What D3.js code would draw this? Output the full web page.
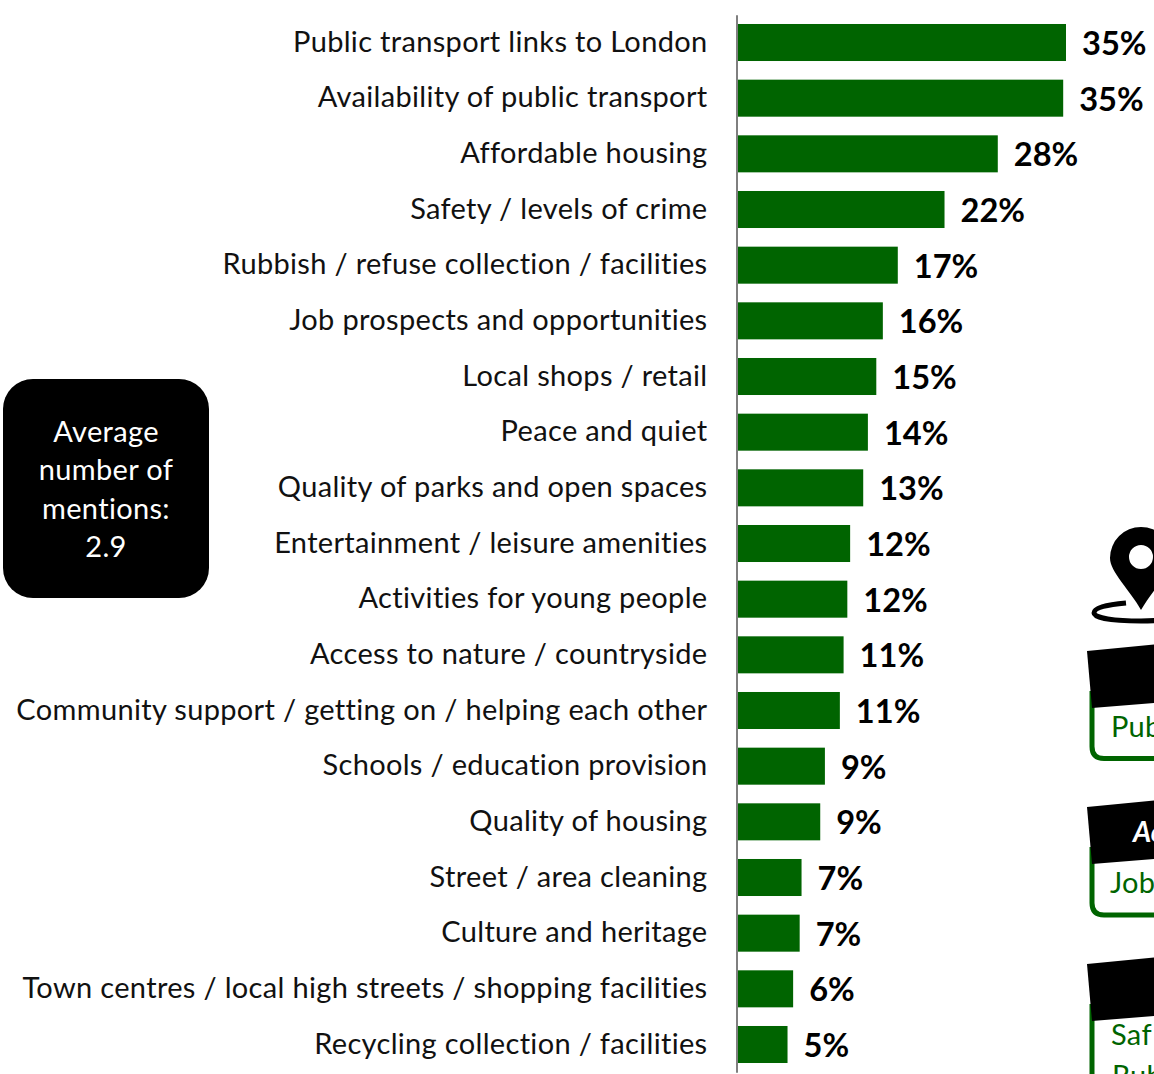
<!DOCTYPE html>
<html><head><meta charset="utf-8">
<script src="https://cdn.jsdelivr.net/npm/d3@7/dist/d3.min.js"></script>
<style>html,body{margin:0;padding:0;background:#fff;overflow:hidden}svg{display:block}text{font-family:Lato,"Open Sans",sans-serif}</style>
</head><body><script>
const categories=["Public transport links to London","Availability of public transport","Affordable housing","Safety / levels of crime","Rubbish / refuse collection / facilities","Job prospects and opportunities","Local shops / retail","Peace and quiet","Quality of parks and open spaces","Entertainment / leisure amenities","Activities for young people","Access to nature / countryside","Community support / getting on / helping each other","Schools / education provision","Quality of housing","Street / area cleaning","Culture and heritage","Town centres / local high streets / shopping facilities","Recycling collection / facilities"];
const values=[35.1,34.8,27.8,22.1,17.1,15.5,14.8,13.9,13.4,12.0,11.7,11.3,10.9,9.3,8.8,6.8,6.6,5.9,5.3];
const valueLabels=["35%","35%","28%","22%","17%","16%","15%","14%","13%","12%","12%","11%","11%","9%","9%","7%","7%","6%","5%"];
const averageLines=["Average","number of","mentions:","2.9"];

const W=1154,H=1074,GREEN="#006400",SPACING="0.33px";
const svg=d3.select("body").append("svg").attr("width",W).attr("height",H);
const x=d3.scaleLinear().domain([0,35.1]).range([738,1066]);
const y=d3.scaleBand().domain(categories).range([14.67,1072.33]).paddingInner(.335).paddingOuter(.1675);

svg.append("g").selectAll("rect").data(values).join("rect")
 .attr("x",x(0)).attr("y",(d,i)=>y(categories[i])).attr("width",d=>x(d)-x(0)).attr("height",y.bandwidth()).attr("fill",GREEN);

const ax=svg.append("g").attr("transform","translate(736.5,0)").call(d3.axisLeft(y).tickSize(0).tickPadding(29));
ax.select(".domain").attr("stroke","#7f7f7f").attr("stroke-width",2);
ax.selectAll("text").attr("font-size",29).attr("fill","#111").style("font-family","Lato").style("letter-spacing",SPACING);

svg.append("g").selectAll("text").data(values).join("text")
 .attr("x",d=>x(d)+16).attr("y",(d,i)=>y(categories[i])+y.bandwidth()/2+1).attr("dy",".35em")
 .attr("font-size",32.6).attr("font-weight",700).attr("fill","#000").text((d,i)=>valueLabels[i]);

// average box
svg.append("rect").attr("x",3).attr("y",379).attr("width",206).attr("height",219).attr("rx",30).attr("fill","#000");
svg.append("g").selectAll("text").data(averageLines).join("text")
 .attr("x",106).attr("y",(d,i)=>442+i*38.3).attr("text-anchor","middle").attr("font-size",29).style("letter-spacing",SPACING).attr("fill","#fff").text(d=>d);

// map pin
svg.append("path").attr("fill","#000").attr("fill-rule","evenodd")
 .attr("d","M1141 610 C1130 590 1110 572 1110 558 A31 31 0 0 1 1172 558 C1172 572 1152 590 1141 610Z M1153 557 A12 12 0 1 0 1129 557 A12 12 0 1 0 1153 557Z");
svg.append("path").attr("fill","none").attr("stroke","#000").attr("stroke-width",5)
 .attr("d","M1126 603 C1105 605 1094 608 1094 613 C1094 618 1115 621 1141 621 C1150 621 1165 620 1175 618");

// callouts
const callouts=[
 {top:651,txt:[["Pub",1111,737]],bottom:761},
 {top:807,txt:[["Job",1110,893]],bottom:917.5,head:"Ac"},
 {top:964,txt:[["Saf",1111,1045],["Rub",1112,1086]],bottom:1120}];
callouts.forEach(c=>{
 const b=c.bottom-2.5, t=c.top+40;
 svg.append("path").attr("fill","none").attr("stroke",GREEN).attr("stroke-width",5)
  .attr("d",`M1092 ${t} L1092 ${b-12} Q1092 ${b} 1104 ${b} L1160 ${b}`);
 svg.append("path").attr("fill","#000").attr("d",`M1087 ${c.top} L1154 ${c.top-6.5} L1154 ${c.top+52} L1092 ${c.top+57}Z`);
 if(c.head) svg.append("text").attr("x",1133).attr("y",c.top+35).attr("font-size",28).attr("font-weight",700).attr("font-style","italic").attr("fill","#fff").text(c.head);
 c.txt.forEach(d=>svg.append("text").attr("x",d[1]).attr("y",d[2]).attr("font-size",29).style("letter-spacing",SPACING).attr("fill",GREEN).text(d[0]));
});
</script></body></html>
